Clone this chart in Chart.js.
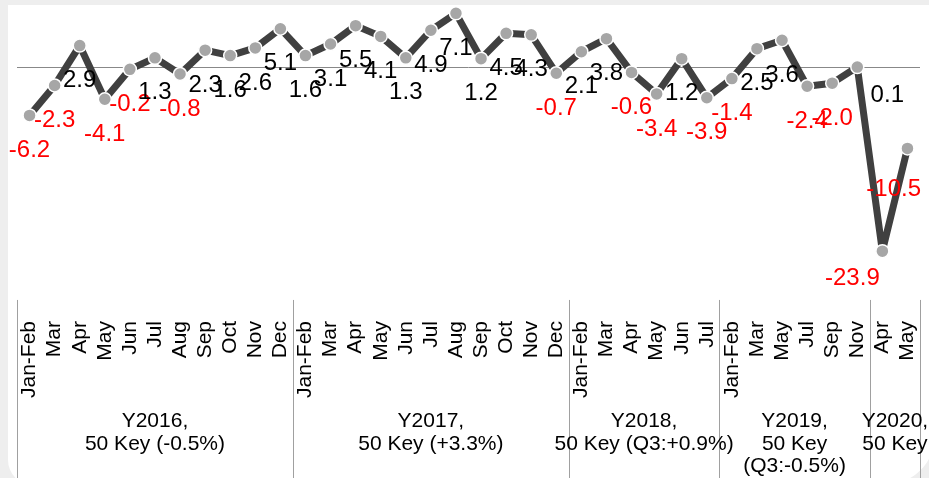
<!DOCTYPE html>
<html>
<head>
<meta charset="utf-8">
<script src="https://cdn.jsdelivr.net/npm/chart.js@4.4.1/dist/chart.umd.min.js"></script>
<style>
html, body { margin: 0; padding: 0; background: #eeeeee; overflow: hidden; }
#card { position: absolute; left: 8px; top: 5px; width: 927px; height: 480px; background: #fff; border-radius: 0 0 50px 25px; }
#wrap { position: absolute; left: 0; top: 0; width: 929px; height: 478px; }
</style>
</head>
<body>
<div id="card"></div>
<div id="wrap"><canvas id="myChart"></canvas></div>
<script>
var months = [
    'Jan-Feb', 'Mar', 'Apr', 'May', 'Jun', 'Jul', 'Aug', 'Sep', 'Oct', 'Nov', 'Dec',
    'Jan-Feb', 'Mar', 'Apr', 'May', 'Jun', 'Jul', 'Aug', 'Sep', 'Oct', 'Nov', 'Dec',
    'Jan-Feb', 'Mar', 'Apr', 'May', 'Jun', 'Jul',
    'Jan-Feb', 'Mar', 'May', 'Jul', 'Sep', 'Nov',
    'Apr', 'May'
];
var values = [
    -6.2, -2.3, 2.9, -4.1, -0.2, 1.3, -0.8, 2.3, 1.6, 2.6, 5.1,
    1.6, 3.1, 5.5, 4.1, 1.3, 4.9, 7.1, 1.2, 4.5, 4.3, -0.7,
    2.1, 3.8, -0.6, -3.4, 1.2, -3.9,
    -1.4, 2.5, 3.6, -2.4, -2.0, 0.1,
    -23.9, -10.5
];
var groupSizes = [11, 11, 6, 6, 2];
var groupLabels = [
    ['Y2016,', '50 Key (-0.5%)'],
    ['Y2017,', '50 Key (+3.3%)'],
    ['Y2018,', '50 Key (Q3:+0.9%)'],
    ['Y2019,', '50 Key', '(Q3:-0.5%)'],
    ['Y2020,', '50 Key']
];

var fontFamily = "'Liberation Sans', Arial, sans-serif";

// value labels under each point
var pointLabels = {
    id: 'pointLabels',
    afterDatasetsDraw: function (chart, args, opts) {
        var ctx = chart.ctx;
        var meta = chart.getDatasetMeta(0);
        var right = chart.chartArea.right + 1;
        ctx.save();
        ctx.font = opts.size + 'px ' + fontFamily;
        ctx.textAlign = 'center';
        ctx.textBaseline = 'middle';
        meta.data.forEach(function (pt, i) {
            var v = values[i];
            var text = v.toFixed(1);
            var s = opts.shifts[i] || [0, 0];
            var x = pt.x + s[0];
            var y = pt.y + opts.offset + s[1];
            var w = ctx.measureText(text).width;
            if (x + w / 2 > right) x = right - w / 2;
            ctx.fillStyle = v < 0 ? '#ff0000' : '#000000';
            ctx.fillText(text, x, y);
        });
        ctx.restore();
    }
};

// year groups under the month labels
var groupAxis = {
    id: 'groupAxis',
    afterDraw: function (chart, args, opts) {
        var ctx = chart.ctx;
        var xs = chart.scales.x;
        var area = chart.chartArea;
        var start = 0;
        ctx.save();
        ctx.strokeStyle = '#a0a0a0';
        ctx.lineWidth = 1;
        ctx.font = opts.size + 'px ' + fontFamily;
        ctx.fillStyle = '#000';
        ctx.textAlign = 'center';
        ctx.textBaseline = 'alphabetic';
        var edges = [xs.getPixelForValue(-0.5)];
        groupSizes.forEach(function (n) {
            start += n;
            edges.push(xs.getPixelForValue(start - 0.5));
        });
        edges.forEach(function (ex) {
            var px = Math.round(ex) + 0.5;
            ctx.beginPath();
            ctx.moveTo(px, area.bottom + 2);
            ctx.lineTo(px, chart.height);
            ctx.stroke();
        });
        groupLabels.forEach(function (lines, g) {
            var cx = (edges[g] + edges[g + 1]) / 2;
            lines.forEach(function (line, k) {
                ctx.fillText(line, cx, chart.height - opts.fromBottom + k * opts.lineHeight);
            });
        });
        ctx.restore();
    }
};

var ctx_live = document.getElementById('myChart');
var myChart = new Chart(ctx_live, {
    type: 'line',
    data: {
        labels: months,
        datasets: [{
            data: values,
            borderColor: '#404040',
            borderWidth: 7,
            borderJoinStyle: 'bevel',
            tension: 0,
            pointRadius: 6.5,
            pointBackgroundColor: '#a6a6a6',
            pointBorderColor: '#ffffff',
            pointBorderWidth: 1.5,
            clip: false
        }]
    },
    options: {
        responsive: true,
        maintainAspectRatio: false,
        animation: false,
        layout: { padding: { left: 17, right: 9, top: 4, bottom: 65 } },
        plugins: {
            legend: { display: false },
            tooltip: { enabled: false },
            pointLabels: {
                size: 24,
                offset: 35,
                shifts: { 33: [30, -7], 34: [-30, -8], 35: [0, 6] }
            },
            groupAxis: { size: 21, fromBottom: 51, lineHeight: 22.5 }
        },
        scales: {
            x: {
                offset: true,
                grid: { display: false },
                border: { display: false },
                afterFit: function (scale) {
                    scale.paddingLeft = 0;
                    scale.paddingRight = 0;
                },
                ticks: {
                    color: '#000',
                    font: { family: fontFamily, size: 21 },
                    maxRotation: 90,
                    minRotation: 90,
                    autoSkip: false,
                    padding: 15
                }
            },
            y: {
                min: -30,
                max: 7.8,
                ticks: { display: false, stepSize: 10 },
                border: { display: false },
                grid: {
                    drawTicks: false,
                    color: function (c) { return c.tick && c.tick.value === 0 ? '#888888' : 'rgba(0,0,0,0)'; }
                }
            }
        }
    },
    plugins: [pointLabels, groupAxis]
});
</script>
</body>
</html>
